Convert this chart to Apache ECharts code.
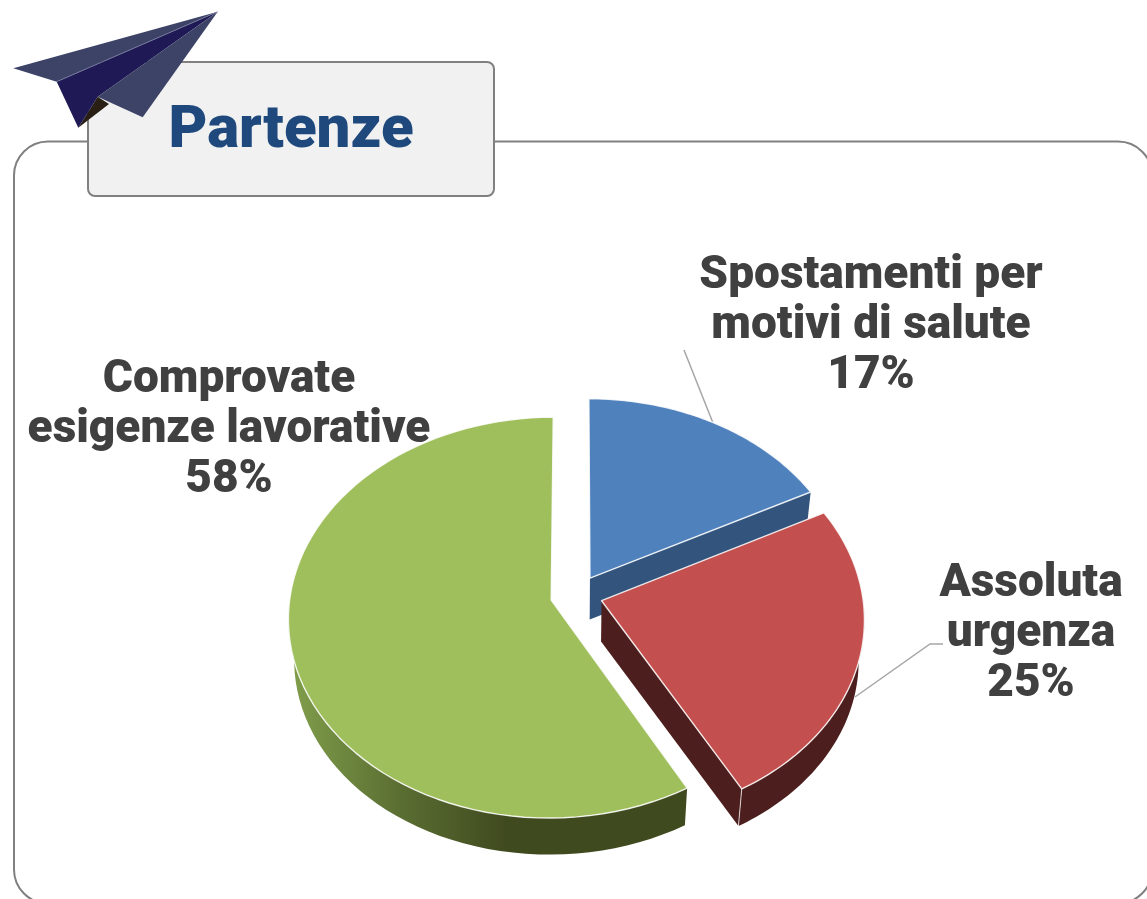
<!DOCTYPE html>
<html>
<head>
<meta charset="utf-8">
<title>Partenze</title>
<script src="https://cdn.jsdelivr.net/npm/echarts@6/dist/echarts.min.js"></script>
<style>
html, body { margin: 0; padding: 0; background: #fff; }
#main { width: 1147px; height: 899px; }
</style>
</head>
<body>
<div id="main"></div>
<script>
var title = 'Partenze';
var categories = ['Spostamenti per\nmotivi di salute', 'Assoluta\nurgenza', 'Comprovate\nesigenze lavorative'];
// le etichette mostrano il valore arrotondato
var values = [17.4, 24.5, 58.1];

// colori e posizioni delle etichette, separati dai dati
var topColors = ['#4f81bd', '#c3504e', '#9fbe5c'];
var sideColors = ['#33547c', '#4c1e1d', '#404a1f'];
var labelPos = [[871, 326], [1031, 634], [229, 430]];
var leaders = [
    [[684, 350], [713, 423]],
    [[943, 644], [930, 644], [855, 697]],
    null
];

// proiezione prospettica del disco (torta 3d)
var CX = 576.5, CY = 595, RX = 261, RY = 198, P = 0.0877;
var EXPLODE = 0.1, DEPTH = 41, SHRINK = 0.98;

function project(x, y) {
    var w = 1 - P * y;
    return [CX + RX * x / w, CY + RY * y / w];
}
function lower(p) {
    return [CX + (p[0] - CX) * SHRINK, CY + (p[1] - CY) * SHRINK + DEPTH];
}

var total = values.reduce(function (a, b) { return a + b; }, 0);
var rows = [];
var cum = 0;
values.forEach(function (v, i) {
    rows.push([cum, v, i]);
    cum += v;
});

function renderSlice(params, api) {
    var start = api.value(0) / total * Math.PI * 2;
    var val = api.value(1) / total * Math.PI * 2;
    var i = api.value(2);
    var end = start + val;
    var mid = start + val / 2;
    var ox = EXPLODE * Math.sin(mid), oy = -EXPLODE * Math.cos(mid);

    var arc = [];
    var front = [];   // parte dell'arco rivolta verso chi guarda
    var n = 80;
    for (var k = 0; k <= n; k++) {
        var a = start + val * k / n;
        var p = project(ox + Math.sin(a), oy - Math.cos(a));
        arc.push(p);
        if (-Math.cos(a) > -0.02) {
            front.push(p);
        }
    }
    var apex = project(ox, oy);
    var arcLow = arc.map(lower);
    var apexLow = lower(apex);
    var children = [];

    if (leaders[i]) {
        children.push({
            type: 'polyline',
            shape: { points: leaders[i] },
            style: { stroke: '#a6a6a6', lineWidth: 1.5, fill: null }
        });
    }

    var arcFill = sideColors[i];
    if (i === 2) {
        // il bordo verde sfuma da sinistra verso il basso
        arcFill = new echarts.graphic.LinearGradient(295, 0, 505, 0, [
            { offset: 0, color: '#7f9c4a' },
            { offset: 0.5, color: '#5a6e32' },
            { offset: 1, color: '#404a1f' }
        ], true);
    }
    if (front.length > 1) {
        children.push({
            type: 'polygon',
            shape: { points: front.concat(front.map(lower).reverse()) },
            style: { fill: arcFill }
        });
    }
    // solo il taglio rivolto verso chi guarda
    if (end < Math.PI) {
        children.push({
            type: 'polygon',
            shape: { points: [apex, arc[n], arcLow[n], apexLow] },
            style: { fill: sideColors[i] }
        });
    }
    if (i === 1) {
        // spigolo chiaro sulla punta
        children.push({
            type: 'line',
            shape: { x1: arc[n][0], y1: arc[n][1], x2: arcLow[n][0], y2: arcLow[n][1] },
            style: { stroke: 'rgba(255,255,255,0.75)', lineWidth: 1 }
        });
    }
    children.push({
        type: 'polygon',
        shape: { points: [apex].concat(arc) },
        style: { fill: topColors[i], stroke: 'rgba(255,255,255,0.85)', lineWidth: 1.4, lineJoin: 'round' }
    });
    children.push({
        type: 'text',
        style: {
            text: categories[i] + '\n' + Math.round(values[i]) + '%',
            x: labelPos[i][0],
            y: labelPos[i][1],
            align: 'center',
            verticalAlign: 'middle',
            fontFamily: 'Roboto',
            fontWeight: 900,
            fontSize: 46,
            lineHeight: 50,
            fill: '#404040'
        }
    });
    return { type: 'group', children: children };
}

var myChart = echarts.init(document.getElementById('main'), null, { renderer: 'canvas' });
var planeBody = '#3c4367';
var option = {
    animation: false,
    backgroundColor: '#fff',
    graphic: [
        {
            type: 'rect', z: 1,
            shape: { x: 14, y: 141.5, width: 1138, height: 762, r: 34 },
            style: { fill: '#fff', stroke: '#808080', lineWidth: 2 }
        },
        {
            type: 'rect', z: 2,
            shape: { x: 88, y: 62, width: 406, height: 134, r: 7 },
            style: { fill: '#f1f1f1', stroke: '#808080', lineWidth: 2 }
        },
        {
            type: 'text', z: 3,
            style: {
                text: title, x: 291, y: 132, align: 'center', verticalAlign: 'middle',
                fontFamily: 'Roboto', fontWeight: 900, fontSize: 60, fill: '#1f497d'
            }
        },
        { type: 'polygon', z: 4, shape: { points: [[97.7, 96.7], [109, 104], [78.3, 127.7]] }, style: { fill: '#2a1f14' } },
        { type: 'polygon', z: 4, shape: { points: [[217.7, 11.7], [13.3, 68.3], [56.7, 81.7]] }, style: { fill: planeBody } },
        { type: 'polygon', z: 4, shape: { points: [[56.7, 81.7], [217.7, 11.7], [97.7, 96.7], [78.3, 127.7]] }, style: { fill: '#1f1a55' } },
        { type: 'polygon', z: 4, shape: { points: [[217.7, 11.7], [97.7, 96.7], [142.7, 117.3]] }, style: { fill: planeBody } },
        { type: 'line', z: 4, shape: { x1: 56.7, y1: 81.7, x2: 217.7, y2: 11.7 }, style: { stroke: '#7f83a3', lineWidth: 0.8 } }
    ],
    series: [{
        type: 'custom',
        coordinateSystem: 'none',
        z: 5,
        silent: true,
        renderItem: renderSlice,
        data: rows
    }]
};
myChart.setOption(option);
</script>
</body>
</html>
